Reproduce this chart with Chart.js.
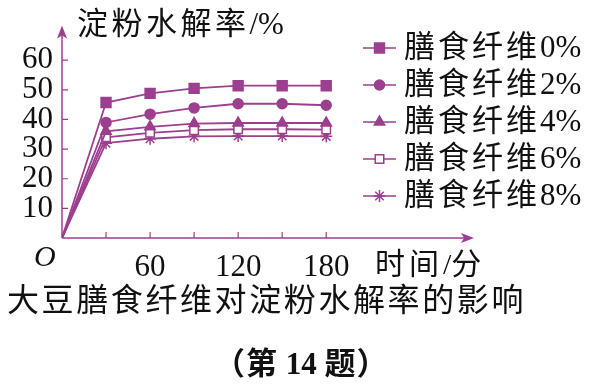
<!DOCTYPE html>
<html>
<head>
<meta charset="utf-8">
<script src="https://cdn.jsdelivr.net/npm/chart.js@4"></script>
<style>
  html, body { margin: 0; padding: 0; background: #fff; }
  #wrap { position: relative; width: 595px; height: 391px; }
</style>
</head>
<body>
<div id="wrap"><canvas id="chart" width="595" height="391"></canvas></div>
<script>
const PURPLE = '#9c3f8f';
const NUM_FONT = '"Liberation Serif", "DejaVu Serif", serif';
const CJK_FONT = '"Liberation Serif", "Noto Sans CJK SC", serif';

const TIMES = [0, 30, 60, 90, 120, 150, 180];
const X_TICK_LABELS = { 60: '60', 120: '120', 180: '180' };
const Y_TICK_LABELS = [10, 20, 30, 40, 50, 60];

const FIBER_0 = [0, 45.7, 48.8, 50.5, 51.4, 51.4, 51.4];
const FIBER_2 = [0, 39, 41.8, 43.9, 45.3, 45.3, 44.8];
const FIBER_4 = [0, 36, 37.5, 38.6, 38.8, 38.8, 38.8];
const FIBER_6 = [0, 34, 35.5, 36.4, 36.7, 36.7, 36.6];
const FIBER_8 = [0, 32, 33.5, 34.3, 34.4, 34.4, 34.3];

const SERIES = [
    { label: '膳食纤维0%', values: FIBER_0, style: 'rect', radius: 7, fill: PURPLE },
    { label: '膳食纤维2%', values: FIBER_2, style: 'circle', radius: 5, fill: PURPLE },
    { label: '膳食纤维4%', values: FIBER_4, style: 'triangle', radius: 6, fill: PURPLE },
    { label: '膳食纤维6%', values: FIBER_6, style: 'rect', radius: 6, fill: '#ffffff' },
    { label: '膳食纤维8%', values: FIBER_8, style: 'star', radius: 6, fill: PURPLE }
];

function arrowHead(ctx, x, y, dir) {
    ctx.beginPath();
    if (dir === 'up') {
        ctx.moveTo(x, y);
        ctx.lineTo(x - 5, y + 13);
        ctx.lineTo(x, y + 10);
        ctx.lineTo(x + 5, y + 13);
    } else {
        ctx.moveTo(x, y);
        ctx.lineTo(x - 13, y - 5);
        ctx.lineTo(x - 10, y);
        ctx.lineTo(x - 13, y + 5);
    }
    ctx.closePath();
    ctx.fill();
}

// CJK chars get extra spacing (the original uses a wide Song face), latin stays tight
function spacedText(ctx, text, x, y, font, spacing) {
    ctx.font = font;
    ctx.textAlign = 'left';
    let cx = x;
    for (const ch of text) {
        const isCjk = /[\u3000-\u9fff\uff00-\uffef]/.test(ch);
        ctx.fillText(ch, cx, y);
        cx += ctx.measureText(ch).width + (isCjk ? spacing : 0);
    }
}

const decorPlugin = {
    id: 'decor',
    beforeDatasetsDraw(chart) {
        const { ctx, chartArea, scales } = chart;
        const x0 = scales.x.getPixelForValue(0);
        const y0 = scales.y.getPixelForValue(0);
        ctx.save();
        ctx.strokeStyle = PURPLE;
        ctx.fillStyle = PURPLE;
        ctx.lineWidth = 1.5;
        // axes
        ctx.beginPath();
        ctx.moveTo(x0, y0);
        ctx.lineTo(chartArea.right - 2, y0);
        ctx.moveTo(x0, y0);
        ctx.lineTo(x0, chartArea.top + 2);
        ctx.stroke();
        arrowHead(ctx, chartArea.right + 1, y0, 'right');
        arrowHead(ctx, x0, chartArea.top - 2, 'up');
        // tick marks
        ctx.lineWidth = 1.2;
        ctx.beginPath();
        TIMES.slice(1).forEach(t => {
            const px = scales.x.getPixelForValue(t);
            ctx.moveTo(px, y0);
            ctx.lineTo(px, y0 - 6);
        });
        Y_TICK_LABELS.forEach(v => {
            const py = scales.y.getPixelForValue(v);
            ctx.moveTo(x0, py);
            ctx.lineTo(x0 + 6, py);
        });
        ctx.stroke();
        ctx.restore();
    },
    afterDraw(chart) {
        const { ctx } = chart;
        ctx.save();
        ctx.fillStyle = '#111';
        ctx.textBaseline = 'middle';
        // axis titles
        spacedText(ctx, '淀粉水解率/%', 77, 26, '31px ' + CJK_FONT, 3.5);
        spacedText(ctx, '时间/分', 375, 266, '30px ' + CJK_FONT, 4);
        ctx.font = 'italic 30px ' + NUM_FONT;
        ctx.fillText('O', 34, 258);
        // caption
        spacedText(ctx, '大豆膳食纤维对淀粉水解率的影响', 7, 303, '32px ' + CJK_FONT, 2.6);
        spacedText(ctx, '（第 14 题）', 214, 366, 'bold 31px ' + CJK_FONT, 1);
        // legend
        const rows = [48, 85, 122, 159, 196];
        SERIES.forEach((s, i) => {
            const y = rows[i];
            ctx.strokeStyle = PURPLE;
            ctx.lineWidth = 1.5;
            ctx.beginPath();
            ctx.moveTo(363, y);
            ctx.lineTo(396, y);
            ctx.stroke();
            ctx.fillStyle = s.fill;
            Chart.helpers.drawPoint(ctx, {
                pointStyle: s.style,
                radius: s.radius,
                borderWidth: 1.5,
                rotation: 0
            }, 379.5, y);
            ctx.fillStyle = '#111';
            spacedText(ctx, s.label, 404, y + 1, '31px ' + CJK_FONT, 3);
        });
        ctx.restore();
    }
};

new Chart(document.getElementById('chart'), {
    type: 'line',
    data: {
        labels: TIMES,
        datasets: SERIES.map(s => ({
            label: s.label,
            data: TIMES.map((t, i) => ({ x: t, y: s.values[i] })),
            borderColor: PURPLE,
            borderWidth: 1.8,
            pointStyle: s.style,
            pointRadius: TIMES.map(t => (t === 0 ? 0 : s.radius)),
            pointBorderWidth: 1.5,
            pointBorderColor: PURPLE,
            pointBackgroundColor: s.fill,
            tension: 0
        }))
    },
    options: {
        responsive: false,
        animation: false,
        layout: { padding: { left: 0, top: 19, right: 122, bottom: 0 } },
        plugins: {
            legend: { display: false },
            tooltip: { enabled: false }
        },
        scales: {
            x: {
                type: 'linear',
                min: 0,
                max: 280,
                grid: { display: false, drawTicks: false },
                border: { display: false },
                afterFit(scale) { scale.height = 153; },
                afterBuildTicks(scale) {
                    scale.ticks = Object.keys(X_TICK_LABELS).map(v => ({ value: Number(v) }));
                },
                ticks: {
                    padding: 11,
                    color: '#111',
                    font: { family: NUM_FONT, size: 31 },
                    maxRotation: 0,
                    autoSkip: false,
                    callback: value => X_TICK_LABELS[value] || ''
                }
            },
            y: {
                min: 0,
                max: 71,
                grid: { display: false, drawTicks: false },
                border: { display: false },
                afterFit(scale) { scale.width = 62; },
                afterBuildTicks(scale) {
                    scale.ticks = Y_TICK_LABELS.map(v => ({ value: v }));
                },
                ticks: {
                    padding: 9,
                    color: '#111',
                    font: { family: NUM_FONT, size: 31 },
                    autoSkip: false
                }
            }
        }
    },
    plugins: [decorPlugin]
});
</script>
</body>
</html>
